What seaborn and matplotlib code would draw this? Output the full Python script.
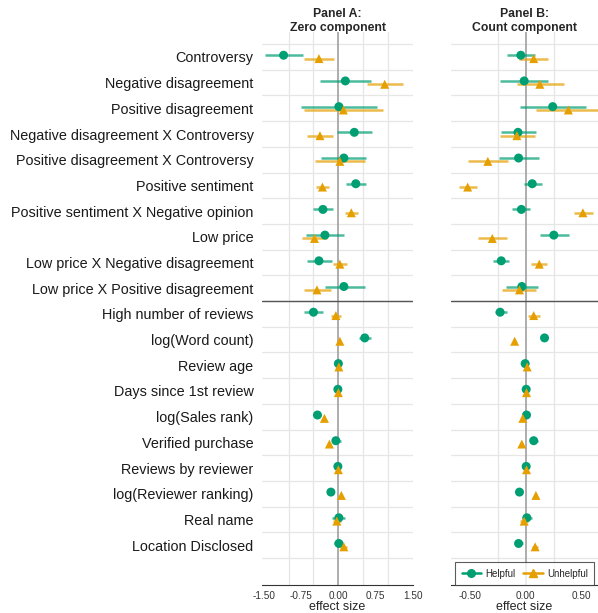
import matplotlib
matplotlib.use("Agg")
import matplotlib.pyplot as plt
from matplotlib.lines import Line2D
import numpy as np
import pandas as pd
import seaborn as sns

variables = [
    "Controversy", "Negative disagreement", "Positive disagreement",
    "Negative disagreement X Controversy", "Positive disagreement X Controversy",
    "Positive sentiment", "Positive sentiment X Negative opinion", "Low price",
    "Low price X Negative disagreement", "Low price X Positive disagreement",
    "High number of reviews", "log(Word count)", "Review age",
    "Days since 1st review", "log(Sales rank)", "Verified purchase",
    "Reviews by reviewer", "log(Reviewer ranking)", "Real name",
    "Location Disclosed",
]

# Panel A: zero component
zero_helpful = [-1.10, 0.14, 0.01, 0.32, 0.11, 0.35, -0.31, -0.27, -0.39, 0.11,
                -0.50, 0.53, 0.00, -0.01, -0.42, -0.05, -0.01, -0.15, 0.01, 0.01]
zero_helpful_lo = [-1.47, -0.36, -0.76, -0.03, -0.34, 0.15, -0.50, -0.64, -0.62, -0.27,
                   -0.69, 0.42, -0.02, -0.03, -0.49, -0.13, -0.03, -0.17, -0.13, -0.09]
zero_helpful_hi = [-0.71, 0.65, 0.78, 0.68, 0.56, 0.56, -0.11, 0.11, -0.13, 0.53,
                   -0.30, 0.65, 0.02, 0.01, -0.34, 0.05, 0.01, -0.13, 0.14, 0.10]
zero_unhelpful = [-0.39, 0.93, 0.10, -0.37, 0.03, -0.32, 0.26, -0.48, 0.03, -0.43,
                  -0.05, 0.03, 0.01, 0.00, -0.28, -0.18, 0.00, 0.06, -0.03, 0.11]
zero_unhelpful_lo = [-0.69, 0.58, -0.70, -0.62, -0.47, -0.44, 0.13, -0.74, -0.11, -0.70,
                     -0.14, 0.00, -0.01, -0.02, -0.30, -0.22, -0.02, 0.04, -0.10, 0.03]
zero_unhelpful_hi = [-0.08, 1.29, 0.90, -0.11, 0.54, -0.18, 0.40, -0.23, 0.17, -0.15,
                     0.06, 0.06, 0.03, 0.02, -0.26, -0.14, 0.02, 0.08, 0.06, 0.18]

# Panel B: count component
count_helpful = [-0.045, -0.015, 0.24, -0.07, -0.065, 0.057, -0.04, 0.25, -0.22, -0.036,
                 -0.23, 0.167, -0.006, 0.003, 0.006, 0.07, 0.003, -0.057, 0.009, -0.065]
count_helpful_lo = [-0.17, -0.23, -0.05, -0.22, -0.24, -0.02, -0.12, 0.125, -0.29, -0.18,
                    -0.28, 0.157, -0.012, -0.003, 0.000, 0.035, -0.003, -0.063, -0.036, -0.10]
count_helpful_hi = [0.08, 0.20, 0.54, 0.09, 0.12, 0.14, 0.04, 0.39, -0.15, 0.11,
                    -0.17, 0.177, 0.000, 0.009, 0.012, 0.107, 0.009, -0.051, 0.054, -0.024]
count_unhelpful = [0.07, 0.125, 0.38, -0.08, -0.34, -0.52, 0.51, -0.30, 0.12, -0.057,
                   0.07, -0.10, 0.012, 0.006, -0.027, -0.036, 0.006, 0.09, -0.015, 0.083]
count_unhelpful_lo = [-0.06, -0.08, 0.09, -0.23, -0.52, -0.60, 0.43, -0.43, 0.05, -0.21,
                      0.02, -0.11, 0.006, 0.000, -0.035, -0.046, 0.000, 0.082, -0.048, 0.054]
count_unhelpful_hi = [0.20, 0.34, 0.68, 0.08, -0.16, -0.44, 0.60, -0.17, 0.19, 0.09,
                      0.125, -0.09, 0.018, 0.012, -0.019, -0.026, 0.012, 0.098, 0.018, 0.11]

types = ["Helpful", "Unhelpful"]
colors = {"Helpful": "#009E73", "Unhelpful": "#E69F00"}
markers = {"Helpful": "o", "Unhelpful": "^"}
offsets = {"Helpful": -0.065, "Unhelpful": 0.065}


def make_frame(est_h, lo_h, hi_h, est_u, lo_u, hi_u):
    parts = []
    for t, est, lo, hi in [("Helpful", est_h, lo_h, hi_h), ("Unhelpful", est_u, lo_u, hi_u)]:
        parts.append(pd.DataFrame({
            "variable": variables, "row": np.arange(len(variables)),
            "type": t, "est": est, "lo": lo, "hi": hi,
        }))
    d = pd.concat(parts, ignore_index=True)
    d["y"] = d["row"] + d["type"].map(offsets)
    return d


df_zero = make_frame(zero_helpful, zero_helpful_lo, zero_helpful_hi,
                     zero_unhelpful, zero_unhelpful_lo, zero_unhelpful_hi)
df_count = make_frame(count_helpful, count_helpful_lo, count_helpful_hi,
                      count_unhelpful, count_unhelpful_lo, count_unhelpful_hi)

sns.set_style("white")
plt.rcParams["font.family"] = ["Liberation Sans", "DejaVu Sans"]

fig = plt.figure(figsize=(5.98, 6.13), dpi=100)
ax_a = fig.add_axes([0.438, 0.0457, 0.253, 0.902])
ax_b = fig.add_axes([0.754, 0.0457, 0.246, 0.902])

panels = [
    (ax_a, df_zero, "Panel A:\nZero component", (-1.535, 1.503),
     [-1.5, -0.75, 0, 0.75, 1.5], [-1, -0.5, 0, 0.5, 1]),
    (ax_b, df_count, "Panel B:\nCount component", (-0.67, 0.645),
     [-0.5, 0, 0.5], [-0.5, -0.25, 0, 0.25, 0.5]),
]

n = len(variables)
for ax, d, title, xlim, xticks, xgrid in panels:
    for t in types:
        sub = d[d["type"] == t]
        ax.hlines(sub["y"], sub["lo"], sub["hi"], color=colors[t], lw=1.8, alpha=0.7, zorder=2)
    sns.scatterplot(data=d, x="est", y="y", hue="type", style="type", palette=colors,
                    markers=markers, s=42, linewidth=0, ax=ax, legend=False, zorder=3)
    ax.set_xlim(*xlim)
    ax.set_ylim(n + 0.55, -0.967)
    ax.set_xticks(xticks)
    ax.set_xticklabels([f"{v:.2f}" for v in xticks], fontsize=7.2, color="#333333")
    ax.set_xticks(xgrid, minor=True)
    ax.set_yticks(np.arange(n + 1) - 0.5, minor=True)
    ax.grid(False)
    ax.grid(True, which="minor", color="#e6e6e6", lw=0.9)
    ax.tick_params(axis="x", which="minor", length=0)
    ax.tick_params(axis="y", which="minor", length=0)
    ax.tick_params(axis="x", which="major", length=3, width=0.8, color="#333333", pad=1)
    ax.axvline(0, color="#a0a0a0", lw=1.2, zorder=1)
    ax.axhline(9.5, color="#555555", lw=1.0, zorder=1)
    for side in ["top", "right", "left"]:
        ax.spines[side].set_visible(False)
    ax.spines["bottom"].set_color("#333333")
    ax.spines["bottom"].set_linewidth(0.8)
    ax.set_xlabel("effect size", fontsize=9, labelpad=0)
    ax.set_ylabel("")
    ax.set_title(title, fontsize=8.8, fontweight="bold", pad=1, linespacing=1.2)

ax_a.set_yticks(np.arange(n))
ax_a.set_yticklabels(variables, fontsize=10.4, color="#1a1a1a")
ax_a.tick_params(axis="y", which="major", length=0, pad=6)
ax_b.set_yticks(np.arange(n))
ax_b.set_yticklabels([])
ax_b.tick_params(axis="y", which="major", length=0)

handles = [Line2D([0], [0], color=colors[t], marker=markers[t], markersize=5.5, lw=1.8,
                  label=t) for t in types]
leg = ax_b.legend(handles=handles, loc="lower left", bbox_to_anchor=(0.03, 0.0),
                  ncol=2, fontsize=7, frameon=True, fancybox=False, handlelength=2.0,
                  columnspacing=0.8, borderaxespad=0, handletextpad=0.45, borderpad=0.65)
leg.get_frame().set_edgecolor("#333333")
leg.get_frame().set_linewidth(0.8)

fig.savefig("out.png", dpi=100)
